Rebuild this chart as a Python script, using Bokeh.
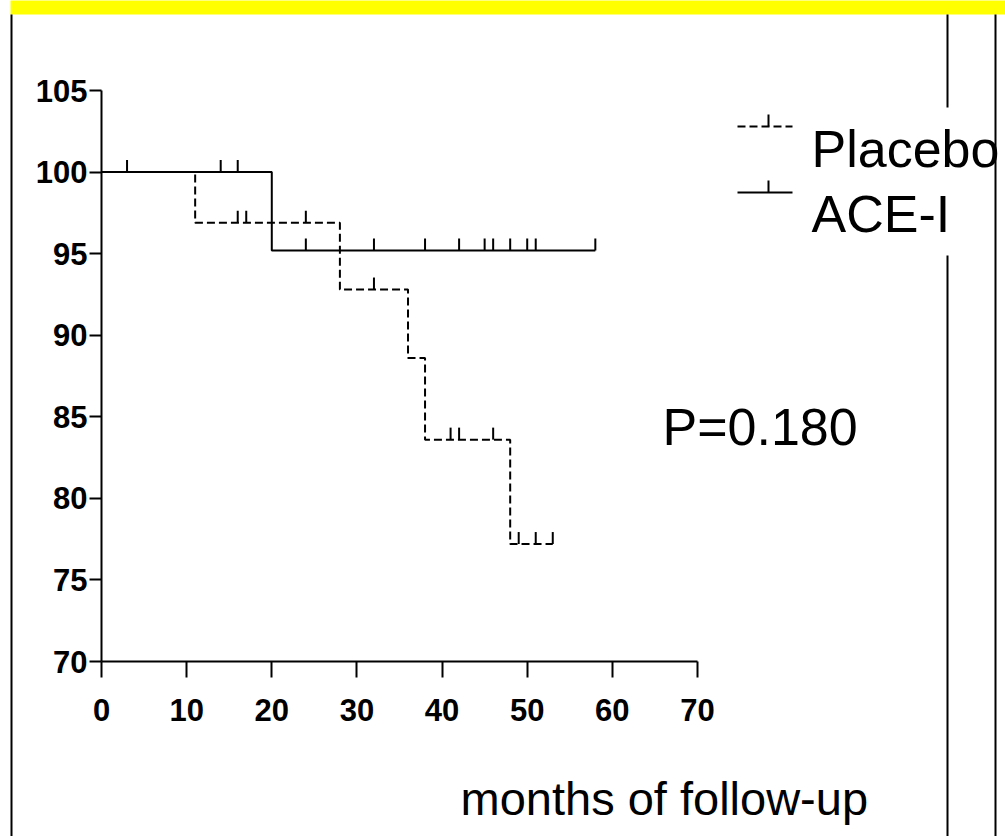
import numpy as np
from bokeh.plotting import figure
from bokeh.models import Range1d, Label
from bokeh.embed import file_html
from bokeh.resources import INLINE

# ---------------- data ----------------
placebo_t = [0, 11, 28, 36, 38, 48, 53]
placebo_s = [100, 96.9, 92.8, 88.6, 83.6, 77.2, 77.2]
placebo_cens_t = [16, 17, 24, 32, 41, 42, 46, 49, 51, 53]

acei_t = [0, 20, 58]
acei_s = [100, 95.2, 95.2]
acei_cens_t = [3, 14, 16, 24, 32, 38, 42, 45, 46, 48, 50, 51, 58]

x_ticks = [0, 10, 20, 30, 40, 50, 60, 70]
y_ticks = [70, 75, 80, 85, 90, 95, 100, 105]
series_names = ["Placebo", "ACE-I"]
p_value_text = "P=0.180"
x_title = "months of follow-up"

# ---------------- layout (pixels) ----------------
W, H = 1005, 836
AX_L, AX_R, AX_T, AX_B = 101, 697, 90, 661   # where the axes sit on the canvas
X0, X1 = x_ticks[0], x_ticks[-1]
Y0, Y1 = y_ticks[0], y_ticks[-1]
XPP = (X1 - X0) / (AX_R - AX_L)   # data per pixel
YPP = (Y1 - Y0) / (AX_B - AX_T)


def dx(px):
    return X0 + (px - AX_L) * XPP


def dy(py):
    return Y1 - (py - AX_T) * YPP


TICK_PX = 12
half_tick = (TICK_PX / 2) * YPP
TEXT_FONT = "Liberation Sans"
BIG = 52
BASE_FIX = 0.37   # baseline correction of the svg text, in ems


def surv_at(ts, ss, t):
    i = np.searchsorted(ts, t, side="right") - 1
    return ss[i]


p = figure(width=W, height=H, output_backend="svg", toolbar_location=None,
           x_range=Range1d(dx(0), dx(W)), y_range=Range1d(dy(H), dy(0)),
           min_border=0, background_fill_color="white", border_fill_color="white")
p.outline_line_color = None
p.grid.visible = False

# decorations: yellow band on top, thin frame rules at the sides
p.quad(left=[dx(10)], right=[dx(W + 5)], top=[dy(-5)], bottom=[dy(14)],
       fill_color="#ffff00", line_color=None)
rules = [(10, 12, 14, H + 5), (946, 948, 14, 107), (946, 948, 255, H + 5),
         (994, 996, 14, H + 5)]
p.quad(left=[dx(r[0]) for r in rules], right=[dx(r[1]) for r in rules],
       top=[dy(r[2]) for r in rules], bottom=[dy(r[3]) for r in rules],
       fill_color="black", line_color=None)

# curves
styles = [dict(line_dash="8 4"), dict(line_dash="solid")]
p.step(placebo_t, placebo_s, mode="after", line_color="black", line_width=2, **styles[0])
p.step(acei_t, acei_s, mode="after", line_color="black", line_width=2, **styles[1])

pl_cy = [surv_at(placebo_t, placebo_s, t) + half_tick for t in placebo_cens_t]
ac_cy = [surv_at(acei_t, acei_s, t) + half_tick for t in acei_cens_t]
p.scatter(placebo_cens_t, pl_cy, marker="dash", size=TICK_PX, angle=np.pi / 2,
          line_color="black", line_width=2)
p.scatter(acei_cens_t, ac_cy, marker="dash", size=TICK_PX, angle=np.pi / 2,
          line_color="black", line_width=2)

# key (sample line with a censor mark, then the name)
KEY_X0, KEY_X1, KEY_MARK_X, KEY_TEXT_X = 737, 792, 768, 811
KEY_LINE_Y = [126, 192]
KEY_BASE_Y = [168, 233]
for name, st, ly, by in zip(series_names, styles, KEY_LINE_Y, KEY_BASE_Y):
    p.line([dx(KEY_X0), dx(KEY_X1)], [dy(ly), dy(ly)], line_color="black", line_width=2, **st)
    p.scatter([dx(KEY_MARK_X)], [dy(ly) + half_tick], marker="dash", size=TICK_PX,
              angle=np.pi / 2, line_color="black", line_width=2)
    p.add_layout(Label(x=dx(KEY_TEXT_X), y=dy(by - BASE_FIX * BIG), text=name,
                       text_font=TEXT_FONT, text_font_size=f"{BIG}px", text_color="black",
                       text_baseline="alphabetic"))

# axes (fixed at the data origin so the frame can span the whole canvas)
p.xaxis.fixed_location = Y0
p.yaxis.fixed_location = X0
p.xaxis.bounds = (X0, X1)
p.yaxis.bounds = (Y0, Y1)
for ax in (p.xaxis[0], p.yaxis[0]):
    ax.axis_line_width = 2
    ax.axis_line_color = "black"
    ax.major_tick_line_width = 2
    ax.major_tick_line_color = "black"
    ax.major_tick_in = 0
    ax.minor_tick_line_color = None
    ax.major_label_text_font = TEXT_FONT
    ax.major_label_text_font_style = "bold"
    ax.major_label_text_font_size = "31px"
    ax.major_label_text_color = "black"
p.xaxis.ticker = x_ticks
p.yaxis.ticker = y_ticks
p.xaxis.major_tick_out = 16
p.yaxis.major_tick_out = 12
p.xaxis.major_label_standoff = 21
p.yaxis.major_label_standoff = 2

p.add_layout(Label(x=dx(662), y=dy(446 - BASE_FIX * BIG), text=p_value_text,
                   text_font=TEXT_FONT, text_font_size=f"{BIG}px", text_color="black",
                   text_baseline="alphabetic"))
p.add_layout(Label(x=dx(460), y=dy(815 - BASE_FIX * 47), text=x_title, text_font=TEXT_FONT,
                   text_font_size="47px", text_color="black", text_baseline="alphabetic"))

open("out.html", "w").write(file_html(p, INLINE))
